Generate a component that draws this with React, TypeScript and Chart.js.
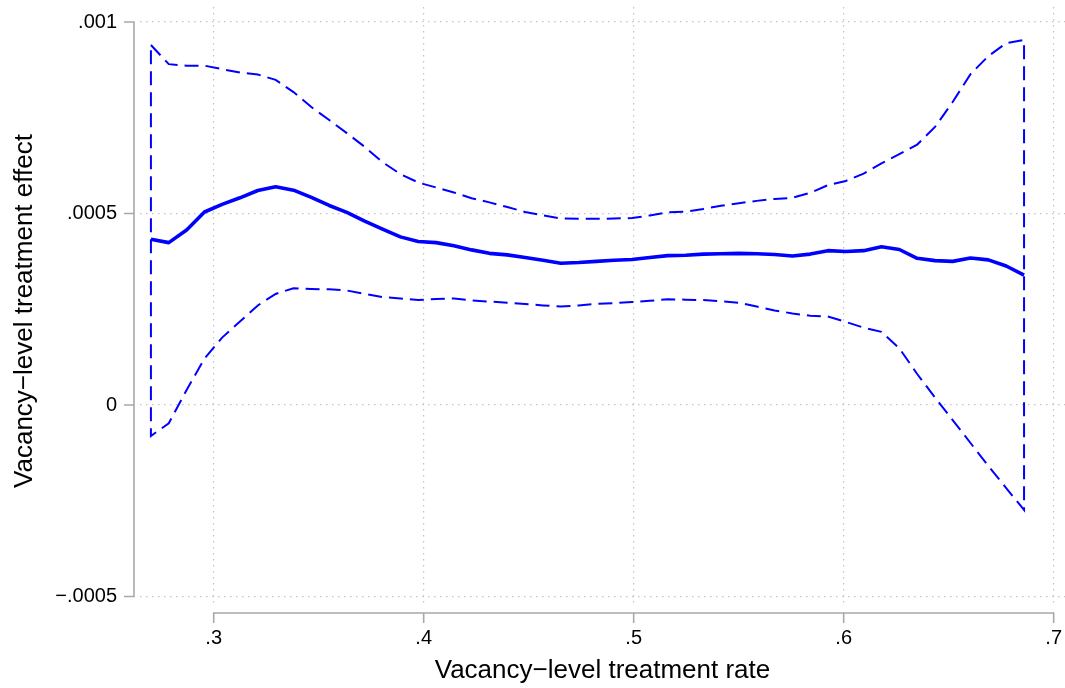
import React, { useEffect, useRef } from 'react';
import { Chart, registerables } from 'chart.js';

Chart.register(...registerables);

// Evaluation grid (treatment rate)
const X_VALUES = [
  0.2701, 0.2786, 0.2871, 0.2956, 0.3040, 0.3125, 0.3210, 0.3295, 0.3380, 0.3465,
  0.3550, 0.3634, 0.3719, 0.3804, 0.3889, 0.3974, 0.4059, 0.4144, 0.4228, 0.4313,
  0.4398, 0.4483, 0.4568, 0.4653, 0.4738, 0.4822, 0.4907, 0.4992, 0.5077, 0.5162,
  0.5247, 0.5332, 0.5416, 0.5501, 0.5586, 0.5671, 0.5756, 0.5841, 0.5925, 0.6010,
  0.6095, 0.6180, 0.6265, 0.6350, 0.6435, 0.6519, 0.6604, 0.6689, 0.6774, 0.6859,
];

// Local polynomial fit (treatment effect)
const FIT = [
  0.000433, 0.000424, 0.000457, 0.000504, 0.000524, 0.000541, 0.000560, 0.000570, 0.000561, 0.000542,
  0.000521, 0.000503, 0.000480, 0.000459, 0.000439, 0.000427, 0.000424, 0.000416, 0.000405, 0.000396,
  0.000392, 0.000385, 0.000378, 0.000370, 0.000372, 0.000375, 0.000378, 0.000380, 0.000385, 0.000390,
  0.000391, 0.000394, 0.000395, 0.000396, 0.000395, 0.000393, 0.000389, 0.000394, 0.000403, 0.000401,
  0.000403, 0.000413, 0.000406, 0.000383, 0.000377, 0.000375, 0.000384, 0.000379, 0.000363, 0.000339,
];

// Upper confidence bound
const CI_UPPER = [
  0.000940, 0.000890, 0.000886, 0.000886, 0.000877, 0.000868, 0.000863, 0.000849, 0.000817, 0.000778,
  0.000744, 0.000710, 0.000674, 0.000634, 0.000603, 0.000581, 0.000568, 0.000555, 0.000540, 0.000529,
  0.000517, 0.000504, 0.000495, 0.000487, 0.000486, 0.000486, 0.000487, 0.000488, 0.000495, 0.000503,
  0.000505, 0.000512, 0.000520, 0.000527, 0.000533, 0.000538, 0.000541, 0.000554, 0.000574, 0.000585,
  0.000604, 0.000631, 0.000655, 0.000680, 0.000726, 0.000791, 0.000864, 0.000911, 0.000945, 0.000953,
];

// Lower confidence bound
const CI_LOWER = [
  -0.0000809, -0.0000478, 0.0000392, 0.000121, 0.000176, 0.000218, 0.000260, 0.000290, 0.000305, 0.000303,
  0.000302, 0.000299, 0.000290, 0.000282, 0.000278, 0.000274, 0.000277, 0.000278, 0.000273, 0.000270,
  0.000267, 0.000264, 0.000260, 0.000257, 0.000260, 0.000264, 0.000266, 0.000269, 0.000272, 0.000276,
  0.000275, 0.000274, 0.000271, 0.000267, 0.000257, 0.000247, 0.000239, 0.000233, 0.000231, 0.000217,
  0.000202, 0.000191, 0.000148, 0.0000809, 0.0000196, -0.0000392, -0.0000992, -0.000159, -0.000217, -0.000274,
];

const X_TICKS = [0.3, 0.4, 0.5, 0.6, 0.7];
const X_TICK_LABELS = ['.3', '.4', '.5', '.6', '.7'];
const Y_TICKS = [-0.0005, 0, 0.0005, 0.001];
const Y_TICK_LABELS = ['\u2212.0005', '0', '.0005', '.001'];
const X_TITLE = 'Vacancy\u2212level treatment rate';
const Y_TITLE = 'Vacancy\u2212level treatment effect';

const LINE_COLOR = '#0000ff';
const AXIS_COLOR = '#a8a8a8';
const GRID_COLOR = '#c4c4c4';
const FONT_FAMILY = '"Liberation Sans", Arial, Helvetica, sans-serif';

const stataAxes = {
  id: 'stataAxes',
  afterDraw(chart: any) {
    const { ctx, chartArea, scales } = chart;
    const xs = scales.x;
    const ys = scales.y;
    ctx.save();
    ctx.strokeStyle = AXIS_COLOR;
    ctx.lineWidth = 1.6;
    ctx.lineCap = 'butt';
    // y axis
    const ax = chartArea.left - 6;
    const yTop = ys.getPixelForValue(Y_TICKS[Y_TICKS.length - 1]);
    const yBot = ys.getPixelForValue(Y_TICKS[0]);
    ctx.beginPath();
    ctx.moveTo(ax, yTop - 0.8);
    ctx.lineTo(ax, yBot + 0.8);
    Y_TICKS.forEach((v) => {
      const p = ys.getPixelForValue(v);
      ctx.moveTo(ax - 10, p);
      ctx.lineTo(ax, p);
    });
    ctx.stroke();
    // x axis
    const ay = chartArea.bottom + 8;
    const xL = xs.getPixelForValue(X_TICKS[0]);
    const xR = xs.getPixelForValue(X_TICKS[X_TICKS.length - 1]);
    ctx.beginPath();
    ctx.moveTo(xL - 0.8, ay);
    ctx.lineTo(xR + 0.8, ay);
    X_TICKS.forEach((v) => {
      const p = xs.getPixelForValue(v);
      ctx.moveTo(p, ay);
      ctx.lineTo(p, ay + 10);
    });
    ctx.stroke();
    // y axis title (rotated)
    ctx.fillStyle = '#000';
    ctx.font = `26px ${FONT_FAMILY}`;
    ctx.textAlign = 'center';
    ctx.textBaseline = 'middle';
    ctx.translate(25, (chartArea.top + chartArea.bottom) / 2 + 5);
    ctx.rotate(-Math.PI / 2);
    ctx.fillText(Y_TITLE, 0, 0);
    ctx.restore();
  },
};

const zeroPadding = (scale: any) => {
  scale.paddingTop = 0;
  scale.paddingBottom = 0;
  scale.paddingLeft = 0;
  scale.paddingRight = 0;
};

export default function App() {
  const canvasRef = useRef<HTMLCanvasElement | null>(null);

  useEffect(() => {
    document.body.style.margin = '0';
    const canvas = canvasRef.current;
    if (!canvas) return;

    const fitData = X_VALUES.map((x, i) => ({ x, y: FIT[i] }));
    const bandData = [
      ...X_VALUES.map((x, i) => ({ x, y: CI_UPPER[i] })),
      ...X_VALUES.map((x, i) => ({ x, y: CI_LOWER[i] })).reverse(),
      { x: X_VALUES[0], y: CI_UPPER[0] },
    ];

    const chart = new Chart(canvas, {
      type: 'line',
      data: {
        datasets: [
          {
            label: 'CI',
            data: bandData,
            borderColor: LINE_COLOR,
            borderWidth: 2,
            borderDash: [14, 7],
            pointRadius: 0,
            fill: false,
            tension: 0,
            clip: false as any,
          },
          {
            label: 'Fit',
            data: fitData,
            borderColor: LINE_COLOR,
            borderWidth: 3.6,
            pointRadius: 0,
            fill: false,
            tension: 0,
            borderJoinStyle: 'round',
            clip: false as any,
          },
        ],
      },
      options: {
        animation: false,
        responsive: false,
        maintainAspectRatio: false,
        layout: { padding: { top: 7, right: 0, left: 0, bottom: 0 } },
        plugins: {
          legend: { display: false },
          tooltip: { enabled: false },
        },
        scales: {
          x: {
            type: 'linear',
            min: 0.2649,
            max: 0.7054,
            afterBuildTicks: (scale: any) => {
              scale.ticks = X_TICKS.map((v) => ({ value: v }));
            },
            afterFit: (scale: any) => {
              scale.height = 83;
              zeroPadding(scale);
            },
            grid: {
              color: GRID_COLOR,
              lineWidth: 1.2,
              drawTicks: false,
            },
            border: { display: false, dash: [1.5, 4.5] },
            ticks: {
              autoSkip: false,
              maxRotation: 0,
              padding: 21,
              color: '#000',
              font: { family: FONT_FAMILY, size: 20 },
              callback: (_v: any, i: number) => X_TICK_LABELS[i],
            },
            title: {
              display: true,
              text: X_TITLE,
              color: '#000',
              font: { family: FONT_FAMILY, size: 26 },
              padding: { top: 0, bottom: 2 },
            },
          },
          y: {
            type: 'linear',
            min: -0.0005222,
            max: 0.0010392,
            afterBuildTicks: (scale: any) => {
              scale.ticks = Y_TICKS.map((v) => ({ value: v }));
            },
            afterFit: (scale: any) => {
              scale.width = 140;
              zeroPadding(scale);
            },
            grid: {
              color: GRID_COLOR,
              lineWidth: 1.2,
              drawTicks: false,
            },
            border: { display: false, dash: [1.5, 4.5] },
            ticks: {
              autoSkip: false,
              padding: 23,
              color: '#000',
              font: { family: FONT_FAMILY, size: 20 },
              callback: (_v: any, i: number) => Y_TICK_LABELS[i],
            },
            title: { display: false },
          },
        },
      },
      plugins: [stataAxes],
    } as any);

    return () => {
      chart.destroy();
    };
  }, []);

  return (
    <div style={{ position: 'fixed', left: 0, top: 0, width: 1065, height: 688, background: '#fff' }}>
      <canvas ref={canvasRef} width={1065} height={688} style={{ display: 'block', width: 1065, height: 688 }} />
    </div>
  );
}
